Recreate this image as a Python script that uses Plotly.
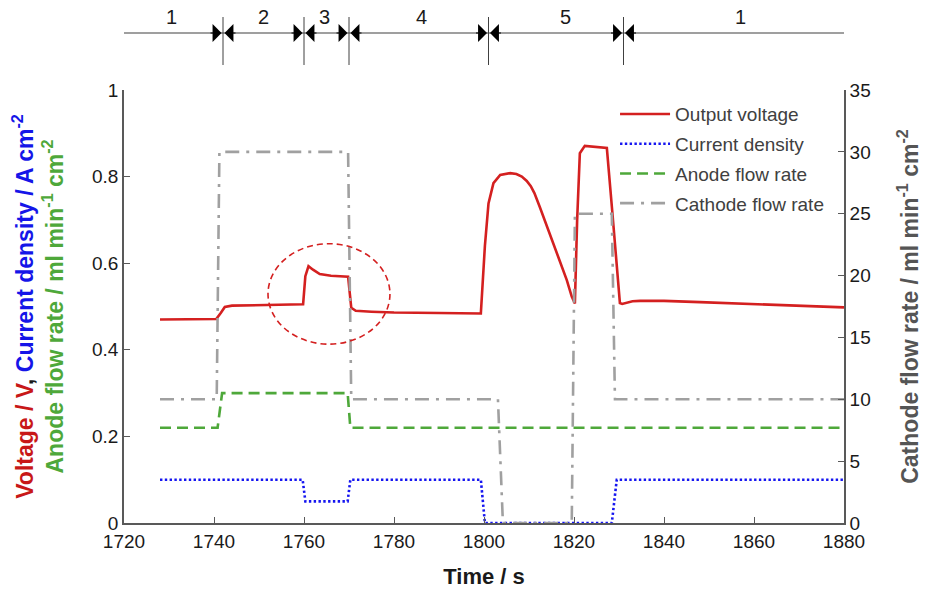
import plotly.graph_objects as go

# ---------------- data ----------------
volt_t = [1728, 1740.5, 1741.5, 1742.4, 1744, 1748, 1752, 1759.8, 1760.3, 1761, 1762, 1763.5, 1766,
          1769.8, 1770.5, 1771.5, 1775, 1780, 1790, 1799.3, 1800.2, 1801.0, 1802.1, 1803.6, 1805.8,
          1807.2, 1808.4, 1809.5, 1810.4, 1811.2, 1812.4, 1813.6, 1815.0, 1816.9, 1818.4, 1819.5,
          1820.2, 1820.7, 1821.3, 1822.4, 1825, 1827.3, 1828.5, 1830.2, 1830.7, 1831.5, 1833,
          1834.7, 1840, 1848, 1855, 1865, 1872, 1880]
volt_v = [0.470, 0.471, 0.485, 0.499, 0.502, 0.503, 0.504, 0.505, 0.570, 0.593, 0.585, 0.575, 0.571,
          0.569, 0.497, 0.490, 0.488, 0.486, 0.485, 0.484, 0.640, 0.738, 0.785, 0.804, 0.808,
          0.806, 0.800, 0.790, 0.778, 0.762, 0.730, 0.696, 0.661, 0.607, 0.561, 0.523,
          0.507, 0.700, 0.854, 0.871, 0.869, 0.866, 0.720, 0.508, 0.506, 0.508, 0.512,
          0.513, 0.513, 0.510, 0.507, 0.503, 0.501, 0.498]

curr_t = [1728, 1759.7, 1760.3, 1769.7, 1770.3, 1799.3, 1800.2, 1828.4, 1829.5, 1880]
curr_v = [0.10, 0.10, 0.05, 0.05, 0.10, 0.10, 0.00, 0.00, 0.10, 0.10]

anode_t = [1728, 1740.8, 1741.8, 1769.7, 1770.3, 1880]
anode_v = [0.22, 0.22, 0.30, 0.30, 0.22, 0.22]

cath_t = [1728, 1740.6, 1741.2, 1769.8, 1770.5, 1803.1, 1804.2, 1819.5, 1820.2, 1828.4, 1829.1, 1880]
cath_v = [10, 10, 30, 30, 10, 10, 0, 0, 25, 25, 10, 10]

phase_bounds = [1742, 1760, 1770, 1801, 1831]
phase_labels = ["1", "2", "3", "4", "5", "1"]
phase_label_t = [1730.5, 1751, 1764.5, 1786, 1818, 1857]

x_ticks = [1720, 1740, 1760, 1780, 1800, 1820, 1840, 1860, 1880]
y1_ticks = [0, 0.2, 0.4, 0.6, 0.8, 1]
y1_labels = ["0", "0.2", "0.4", "0.6", "0.8", "1"]
y2_ticks = [0, 5, 10, 15, 20, 25, 30, 35]

# ---------------- style ----------------
RED = "#D42020"
BLUE = "#1515F0"
GREEN = "#4EA83A"
GRAY = "#A0A0A0"
AXIS = "#595959"
NARROW = "Liberation Sans Narrow, Liberation Sans, Arial"
TICKFONT = dict(family=NARROW, size=19, color="#1a1a1a")

fig = go.Figure()
fig.add_trace(go.Scatter(x=volt_t, y=volt_v, mode="lines", name="Output voltage",
                         line=dict(color=RED, width=2.6), legendgroup="a"))
fig.add_trace(go.Scatter(x=curr_t, y=curr_v, mode="lines", name="Current density",
                         line=dict(color=BLUE, width=2.6, dash="2.4px,2.4px"), legendgroup="b"))
fig.add_trace(go.Scatter(x=anode_t, y=anode_v, mode="lines", name="Anode flow rate",
                         line=dict(color=GREEN, width=2.6, dash="11px,6px"), legendgroup="c"))
fig.add_trace(go.Scatter(x=cath_t, y=cath_v, mode="lines", name="Cathode flow rate", yaxis="y2",
                         line=dict(color=GRAY, width=2.6, dash="14px,7px,3px,7px"), legendgroup="d"))

# circled region
fig.add_shape(type="circle", xref="x", yref="y", x0=1752, x1=1779.1, y0=0.413, y1=0.645,
              line=dict(color=RED, width=1.6, dash="6px,4px"))

# phase bar above the plot (paper coords; plot spans 433 px vertically)
PLOT_H = 433.0
def py(px_above_top):
    return 1 + px_above_top / PLOT_H

bar_y = py(57)
fig.add_shape(type="line", xref="x", yref="paper", x0=1720, x1=1880.5, y0=bar_y, y1=bar_y,
              line=dict(color="#404040", width=1.2))
for b in phase_bounds:
    fig.add_shape(type="line", xref="x", yref="paper", x0=b, x1=b, y0=py(25), y1=py(73),
                  line=dict(color="#404040", width=1.0))
    for side in (-1, 1):
        fig.add_annotation(x=b, y=bar_y, xref="x", yref="paper", ax=side * 14, ay=0,
                           showarrow=True, arrowhead=1, arrowsize=2.7, arrowwidth=1.1,
                           arrowcolor="black", text="", standoff=1.5)
for t, lab in zip(phase_label_t, phase_labels):
    fig.add_annotation(x=t, y=py(73), xref="x", yref="paper", yanchor="middle", text=lab,
                       showarrow=False, font=dict(family=NARROW, size=20, color="#1a1a1a"))

left_title = ("<b><span style='color:#C81818'>Voltage / V</span>, "
              "<span style='color:#1515E8'>Current density / A cm<sup>-2</sup></span><br>"
              "<span style='color:#4EA83A'>Anode flow rate / ml min<sup>-1</sup> cm<sup>-2</sup></span></b>")

fig.update_layout(
    width=930, height=589,
    margin=dict(l=124, r=86, t=90, b=66),
    paper_bgcolor="white", plot_bgcolor="white",
    font=dict(family="Liberation Sans, Arial", color="#1a1a1a"),
    xaxis=dict(range=[1720, 1880], tickvals=x_ticks, ticks="inside", ticklen=6, tickwidth=1.2,
               tickcolor=AXIS, showline=True, linecolor=AXIS, linewidth=1.6, showgrid=False,
               zeroline=False, tickfont=TICKFONT, automargin=False,
               title=dict(text="<b>Time / s</b>", font=dict(size=22, color="#1a1a1a"), standoff=18)),
    yaxis=dict(range=[0, 1], tickvals=y1_ticks, ticktext=y1_labels, ticks="inside", ticklen=6,
               tickwidth=1.2, tickcolor=AXIS, showline=True, linecolor=AXIS, linewidth=1.6,
               showgrid=False, zeroline=False, tickfont=TICKFONT, automargin=False,
               title=dict(text=left_title, font=dict(size=23), standoff=22)),
    yaxis2=dict(range=[0, 35], tickvals=y2_ticks, overlaying="y", side="right", ticks="inside",
                ticklen=6, tickwidth=1.2, tickcolor=AXIS, showline=True, linecolor=AXIS,
                linewidth=1.6, showgrid=False, zeroline=False, tickfont=TICKFONT, automargin=False,
                title=dict(text="<b>Cathode flow rate / ml min<sup>-1</sup> cm<sup>-2</sup></b>",
                           font=dict(size=23, color="#555555"), standoff=32)),
    legend=dict(x=0.682, y=0.988, xanchor="left", yanchor="top", bgcolor="rgba(0,0,0,0)",
                font=dict(family="Liberation Sans, Arial", size=19, color="#404040"),
                tracegroupgap=2, traceorder="grouped", itemwidth=50),
    showlegend=True,
)

fig.write_html("out.html")
